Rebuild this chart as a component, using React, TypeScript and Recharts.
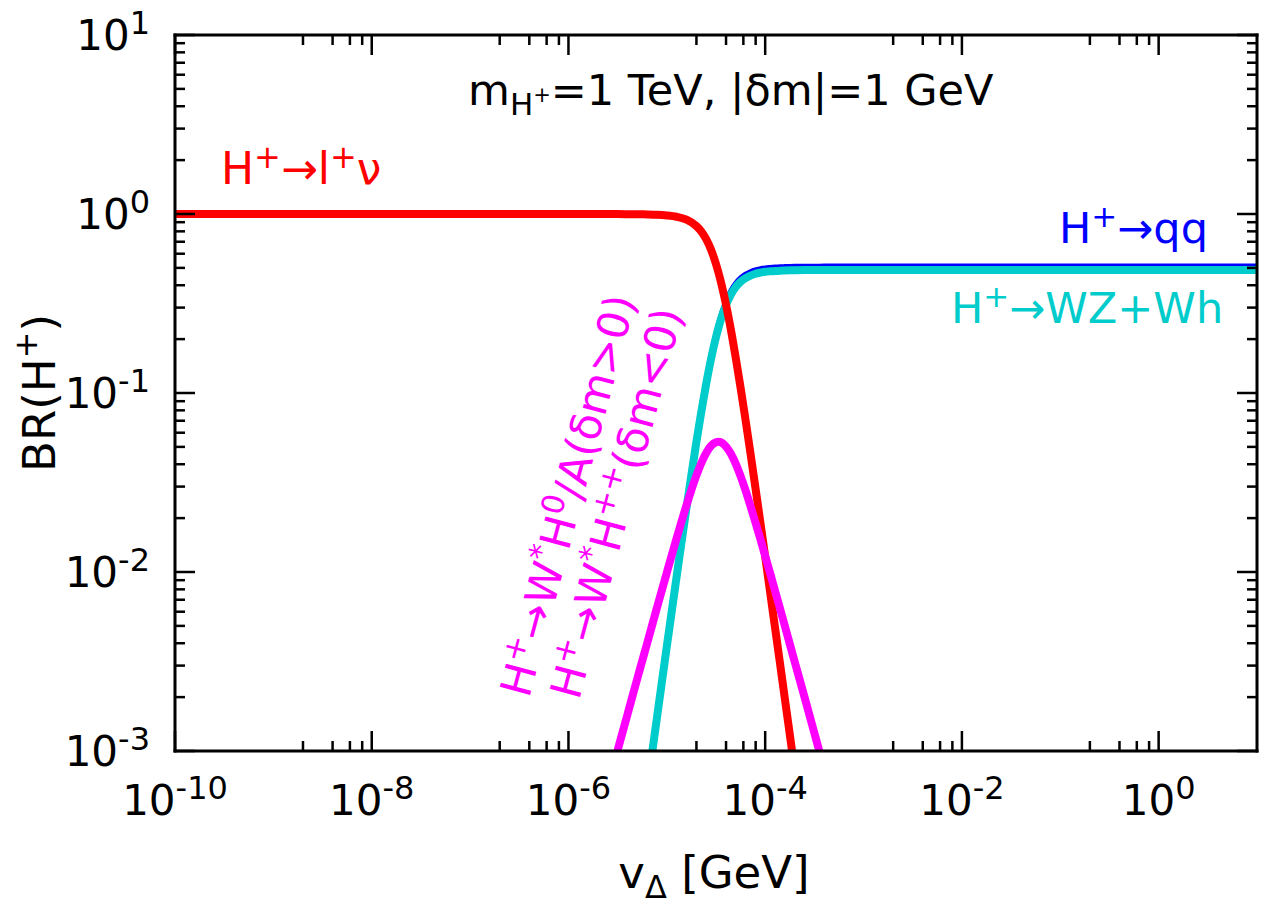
import React from "react";
import { Line, LineChart, XAxis, YAxis } from "recharts";

const C = {
  lnu: "#ff0000",
  qq: "#0000ff",
  wz: "#00cccc",
  wstar: "#ff00ff",
  ink: "#000000",
};

const FONT = '"DejaVu Sans", Verdana, sans-serif';

// page and plot frame, in pixels
const W = 1275;
const H = 906;
const PLOT = { left: 175, right: 1257, top: 35, bottom: 751 };

const X_DOMAIN = [1e-10, 10];
const Y_DOMAIN = [1e-3, 10];

// tick positions (major = powers of ten, the rest are minor marks)
const X_TICKS = [
  1e-10, 2e-9, 4e-9, 6e-9, 8e-9, 1e-8, 2e-7, 4e-7, 6e-7, 8e-7, 1e-6, 2e-5, 4e-5, 6e-5, 8e-5, 1e-4,
  2e-3, 4e-3, 6e-3, 8e-3, 1e-2, 0.2, 0.4, 0.6, 0.8, 1,
];
const Y_TICKS = [
  0.001, 0.002, 0.003, 0.004, 0.005, 0.006, 0.007, 0.008, 0.009,
  0.01, 0.02, 0.03, 0.04, 0.05, 0.06, 0.07, 0.08, 0.09,
  0.1, 0.2, 0.3, 0.4, 0.5, 0.6, 0.7, 0.8, 0.9,
  1, 2, 3, 4, 5, 6, 7, 8, 9, 10,
];

// v_Delta [GeV] sample points
const V = [
  1e-10, 1e-8, 1e-6, 2.512e-6, 3.162e-6, 3.981e-6, 5.012e-6, 6.31e-6, 7.943e-6, 1e-5,
  1.259e-5, 1.585e-5, 1.995e-5, 2.239e-5, 2.512e-5, 2.818e-5, 3.162e-5, 3.342e-5, 3.548e-5, 3.981e-5,
  4.467e-5, 5.012e-5, 5.623e-5, 6.31e-5, 7.079e-5, 7.943e-5, 8.913e-5, 1e-4, 1.122e-4, 1.259e-4,
  1.413e-4, 1.585e-4, 1.778e-4, 1.995e-4, 2.512e-4, 3.162e-4, 3.981e-4, 1e-3, 1e-2, 1e-1,
  1, 10,
];

// BR(H+ -> l+ nu)
const LNU = [
  1, 1, 1, 0.999, 0.999, 0.998, 0.997, 0.995, 0.991, 0.982,
  0.965, 0.929, 0.857, 0.799, 0.723, 0.631, 0.525, 0.473, 0.417, 0.315,
  0.228, 0.158, 0.107, 0.0709, 0.0462, 0.0298, 0.0191, 0.0122, 0.00773, 0.0049,
  0.0031, 0.00196, 0.00124, 0.00078, null, null, null, null, null, null,
  null, null,
];

// BR(H+ -> qq)
const QQ = [
  null, null, null, null, null, null, 0.000259, 0.000647, 0.00162, 0.00404,
  0.00993, 0.0241, 0.0557, 0.0823, 0.1181, 0.1633, 0.2157, 0.2423, 0.2713, 0.3249,
  0.372, 0.4105, 0.4396, 0.4611, 0.4762, 0.4875, 0.4944, 0.4996, 0.5028, 0.5054,
  0.5073, 0.5084, 0.5094, 0.51, 0.5108, 0.5113, 0.5115, 0.512, 0.512, 0.512,
  0.512, 0.512,
];

// BR(H+ -> WZ + Wh)
const WZ = [
  null, null, null, null, null, null, 0.000246, 0.000615, 0.00154, 0.00384,
  0.00945, 0.0229, 0.053, 0.0783, 0.1123, 0.1553, 0.2052, 0.2304, 0.2581, 0.309,
  0.3538, 0.3905, 0.4181, 0.4386, 0.453, 0.4637, 0.4703, 0.4752, 0.4783, 0.4807,
  0.4825, 0.4836, 0.4845, 0.4851, 0.4859, 0.4863, 0.4865, 0.487, 0.487, 0.487,
  0.487, 0.487,
];

// BR(H+ -> W* H0/A) and BR(H+ -> W* H++)
const WSTAR = [
  null, null, null, 0.000638, 0.00101, 0.0016, 0.00254, 0.004, 0.00632, 0.00992,
  0.01545, 0.0236, 0.0345, 0.0405, 0.0462, 0.0507, 0.0531, 0.0535, 0.0531, 0.0504,
  0.0459, 0.0403, 0.0343, 0.0286, 0.0234, 0.019, 0.01535, 0.0123, 0.00985, 0.00786,
  0.00627, 0.00499, 0.00397, 0.00315, 0.002, 0.00126, 0.000795, null, null, null,
  null, null,
];

type Part = [string, number?, number?]; // text, baseline shift (+ = down), font size

function Rich({ parts, size }: { parts: Part[]; size: number }) {
  let cur = 0;
  return (
    <>
      {parts.map(([t, shift = 0, fs = size], i) => {
        const dy = shift - cur;
        cur = shift;
        return (
          <tspan key={i} dy={dy} fontSize={fs}>
            {t}
          </tspan>
        );
      })}
    </>
  );
}

const LBL_LNU: Part[] = [["H"], ["+", -16, 32], ["→l"], ["+", -16, 32], ["ν"]];
const LBL_QQ: Part[] = [["H"], ["+", -16, 31], ["→qq"]];
const LBL_WZ: Part[] = [["H"], ["+", -16, 31], ["→WZ+Wh"]];
const LBL_W0: Part[] = [["H"], ["+", -16, 31], ["→W"], ["*", -16, 31], ["H"], ["0", -16, 31], ["/A(δm>0)"]];
const LBL_WPP: Part[] = [["H"], ["+", -16, 31], ["→W"], ["*", -16, 31], ["H"], ["++", -16, 31], ["(δm<0)"]];
const LBL_TITLE: Part[] = [["m"], ["H", 10, 31], ["+", -3, 21], ["=1 TeV, |δm|=1 GeV", 0]];
const LBL_Y: Part[] = [["BR(H"], ["+", -18, 32], [")"]];
const LBL_X: Part[] = [["v"], ["Δ", 10, 32], [" [GeV]"]];

const FRAME = { stroke: C.ink, strokeWidth: 3, strokeLinecap: "square" as const };
const TICK_W = 2.5;
const MAJOR = 20;
const MINOR = 10;

const isDecade = (v: number) => Math.abs(Math.log10(v) - Math.round(Math.log10(v))) < 1e-6;
const expOf = (v: number) => String(Math.round(Math.log10(v)));

function Pow10({ x, y, v, anchor }: { x: number; y: number; v: number; anchor: "middle" | "end" }) {
  return (
    <text x={x} y={y} textAnchor={anchor} fontSize={42} fill={C.ink}>
      10
      <tspan dy={-16} fontSize={32}>
        {expOf(v)}
      </tspan>
    </text>
  );
}

function XTickBottom(props: any) {
  const { x, payload } = props;
  const major = isDecade(payload.value);
  return (
    <g>
      <line x1={x} x2={x} y1={PLOT.bottom} y2={PLOT.bottom - (major ? MAJOR : MINOR)} stroke={C.ink} strokeWidth={TICK_W} />
      {major && <Pow10 x={x} y={PLOT.bottom + 64} v={payload.value} anchor="middle" />}
    </g>
  );
}

function XTickTop(props: any) {
  const { x, payload } = props;
  const major = isDecade(payload.value);
  return (
    <line x1={x} x2={x} y1={PLOT.top} y2={PLOT.top + (major ? MAJOR : MINOR)} stroke={C.ink} strokeWidth={TICK_W} />
  );
}

function YTickLeft(props: any) {
  const { y, payload } = props;
  const major = isDecade(payload.value);
  return (
    <g>
      <line x1={PLOT.left} x2={PLOT.left + (major ? MAJOR : MINOR)} y1={y} y2={y} stroke={C.ink} strokeWidth={TICK_W} />
      {major && <Pow10 x={PLOT.left - 25} y={y + 15} v={payload.value} anchor="end" />}
    </g>
  );
}

function YTickRight(props: any) {
  const { y, payload } = props;
  const major = isDecade(payload.value);
  return (
    <line x1={PLOT.right} x2={PLOT.right - (major ? MAJOR : MINOR)} y1={y} y2={y} stroke={C.ink} strokeWidth={TICK_W} />
  );
}

export default function App() {
  const rows = V.map((v, i) => ({ v, lnu: LNU[i], qq: QQ[i], wz: WZ[i], wstar: WSTAR[i] }));
  const line = { type: "monotone" as const, dot: false, activeDot: false, isAnimationActive: false, xAxisId: "b", yAxisId: "l", strokeLinejoin: "round" as const };

  return (
    <div style={{ position: "absolute", left: 0, top: 0, width: W, height: H, background: "#fff", fontFamily: FONT }}>
      <LineChart
        width={W}
        height={H}
        data={rows}
        margin={{ top: PLOT.top - 10, right: W - PLOT.right - 10, bottom: H - PLOT.bottom - 60, left: PLOT.left - 100 }}
      >
        <XAxis xAxisId="b" dataKey="v" type="number" scale="log" domain={X_DOMAIN} allowDataOverflow ticks={X_TICKS} interval={0} height={60} tickLine={false} tickSize={0} tick={<XTickBottom />} axisLine={FRAME} />
        <XAxis xAxisId="t" orientation="top" dataKey="v" type="number" scale="log" domain={X_DOMAIN} allowDataOverflow ticks={X_TICKS} interval={0} height={10} tickLine={false} tickSize={0} tick={<XTickTop />} axisLine={FRAME} />
        <YAxis yAxisId="l" type="number" scale="log" domain={Y_DOMAIN} allowDataOverflow ticks={Y_TICKS} interval={0} width={100} tickLine={false} tickSize={0} tick={<YTickLeft />} axisLine={FRAME} />
        <YAxis yAxisId="r" orientation="right" type="number" scale="log" domain={Y_DOMAIN} allowDataOverflow ticks={Y_TICKS} interval={0} width={10} tickLine={false} tickSize={0} tick={<YTickRight />} axisLine={FRAME} />

        <Line {...line} dataKey="qq" stroke={C.qq} strokeWidth={5} />
        <Line {...line} dataKey="wz" stroke={C.wz} strokeWidth={8} />
        <Line {...line} dataKey="lnu" stroke={C.lnu} strokeWidth={8} />
        <Line {...line} dataKey="wstar" stroke={C.wstar} strokeWidth={8} />

        <text x={468} y={105} fontSize={43} fill={C.ink} fontFamily={FONT}>
          <Rich parts={LBL_TITLE} size={43} />
        </text>
        <text x={221} y={184} fontSize={44} fill={C.lnu} fontFamily={FONT}>
          <Rich parts={LBL_LNU} size={44} />
        </text>
        <text x={1059} y={243} fontSize={43} fill={C.qq} fontFamily={FONT}>
          <Rich parts={LBL_QQ} size={43} />
        </text>
        <text x={951} y={323} fontSize={43} fill={C.wz} fontFamily={FONT}>
          <Rich parts={LBL_WZ} size={43} />
        </text>
        <text transform="translate(529,699) rotate(-75)" fontSize={43} fill={C.wstar} fontFamily={FONT}>
          <Rich parts={LBL_W0} size={43} />
        </text>
        <text transform="translate(579,701) rotate(-75)" fontSize={43} fill={C.wstar} fontFamily={FONT}>
          <Rich parts={LBL_WPP} size={43} />
        </text>
        <text transform="translate(55,393) rotate(-90)" textAnchor="middle" fontSize={45} fill={C.ink} fontFamily={FONT}>
          <Rich parts={LBL_Y} size={45} />
        </text>
        <text x={714} y={888} textAnchor="middle" fontSize={45} fill={C.ink} fontFamily={FONT}>
          <Rich parts={LBL_X} size={45} />
        </text>
      </LineChart>
    </div>
  );
}
